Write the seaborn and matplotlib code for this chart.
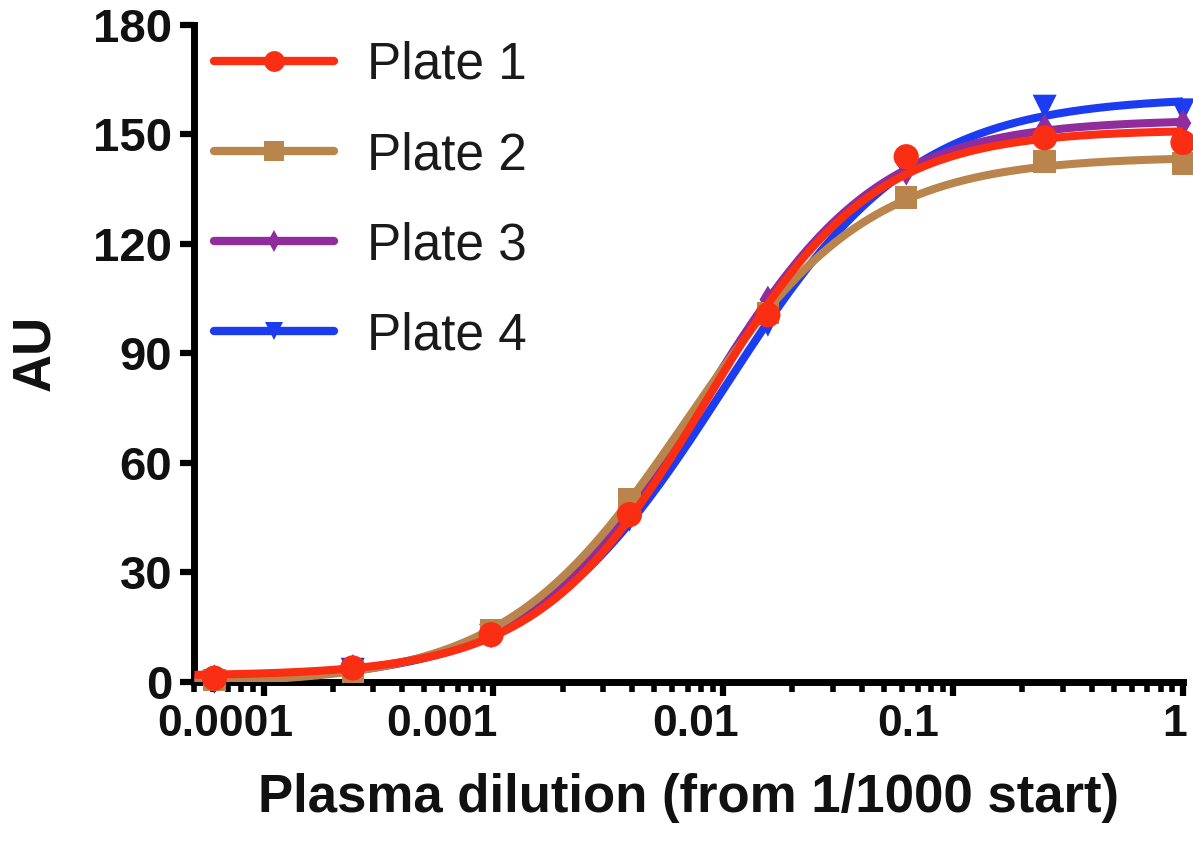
import numpy as np
import pandas as pd
import matplotlib
matplotlib.use("Agg")
import matplotlib.pyplot as plt
from matplotlib.lines import Line2D
from matplotlib.ticker import LogLocator, FixedLocator, NullFormatter
from matplotlib.transforms import ScaledTranslation
import seaborn as sns

# ---- data ----
dilution = [1.0, 0.25, 0.0625, 0.015625, 0.00390625, 0.0009765625,
            0.000244140625, 0.00006103515625]
plate_names = ["Plate 1", "Plate 2", "Plate 3", "Plate 4"]
plate1 = [147.7, 149.0, 143.8, 100.5, 45.8, 12.9, 3.8, 1.0]
plate2 = [142.0, 142.5, 132.6, 101.0, 49.9, 14.2, 2.7, 0.5]
plate3 = [153.0, 151.8, 139.7, 104.7, 47.0, 13.0, 3.8, 1.0]
plate4 = [156.5, 157.5, 140.0, 97.8, 44.4, 12.6, 3.3, 0.0]
colors = ["#FA2E12", "#B9854C", "#902C9C", "#1C3CF2"]
markers = ["o", "s", "d", "v"]
x_ticks = [0.0001, 0.001, 0.01, 0.1, 1]
x_ticklabels = ["0.0001", "0.001", "0.01", "0.1", "1"]
y_ticks = [0, 30, 60, 90, 120, 150, 180]

series = [plate1, plate2, plate3, plate4]

# ---- 4-parameter logistic fit of each plate (least squares on the data) ----
def fit_4pl(x, y):
    lx = np.log10(np.asarray(x))
    y = np.asarray(y)
    best = None
    for lec in np.linspace(-3.5, -0.5, 301):
        for h in np.linspace(0.4, 2.5, 211):
            f = 1.0 / (1.0 + 10 ** ((lec - lx) * h))
            A = np.column_stack([1 - f, f])
            coef, *_ = np.linalg.lstsq(A, y, rcond=None)
            r = np.sum((A @ coef - y) ** 2)
            if best is None or r < best[0]:
                best = (r, coef[0], coef[1], lec, h)
    return best[1:]

xfine = np.logspace(np.log10(5e-5), 0, 300)
curve_rows = []
point_rows = []
for name, ys in zip(plate_names, series):
    b, t, lec, h = fit_4pl(dilution, ys)
    yfit = b + (t - b) / (1.0 + 10 ** ((lec - np.log10(xfine)) * h))
    for xv, yv in zip(xfine, yfit):
        curve_rows.append((name, xv, yv))
    for xv, yv in zip(dilution, ys):
        point_rows.append((name, xv, yv))
curves = pd.DataFrame(curve_rows, columns=["plate", "x", "y"])
points = pd.DataFrame(point_rows, columns=["plate", "x", "y"])

# ---- plot ----
sns.set_style("ticks")
plt.rcParams["font.family"] = ["Liberation Sans", "DejaVu Sans"]

fig = plt.figure(figsize=(11.93, 8.47), dpi=100)
ax = fig.add_axes([0.163, 0.195, 0.8286, 0.776])

order_draw = [3, 2, 1, 0]  # plate 1 on top
for z, i in enumerate(order_draw):
    name = plate_names[i]
    sns.lineplot(data=curves[curves.plate == name], x="x", y="y", ax=ax,
                 color=colors[i], linewidth=5.8, legend=False, zorder=3 + z,
                 solid_capstyle="butt")
    sub = points[points.plate == name]
    msize = {"o": 330, "s": 260, "d": 200, "v": 300}[markers[i]]
    sns.scatterplot(data=sub, x="x", y="y", ax=ax, color=colors[i],
                    marker=markers[i], s=msize, edgecolor="none",
                    legend=False, zorder=3 + z, clip_on=False)

ax.set_xscale("log")
ax.set_xlim(5e-5, 1)
ax.set_ylim(0, 180)

ax.xaxis.set_major_locator(FixedLocator(x_ticks))
ax.set_xticklabels(x_ticklabels)
ax.xaxis.set_minor_locator(LogLocator(base=10, subs=np.arange(2, 10)))
ax.xaxis.set_minor_formatter(NullFormatter())
ax.set_yticks(y_ticks)

ax.tick_params(axis="both", which="major", labelsize=34, width=4.5,
               length=10, color="black", pad=6, labelcolor="#111111")
ax.tick_params(axis="x", which="major", labelsize=32)
ax.tick_params(axis="x", which="minor", width=4, length=7, color="black")
ax.tick_params(axis="y", which="minor", left=False)
for lab in ax.get_xticklabels() + ax.get_yticklabels():
    lab.set_fontweight("bold")

# the reference's x tick labels sit slightly left of their ticks
x_label_shift_px = [-38, -52, -28, -45, -8]
for lab, dx in zip(ax.get_xticklabels(), x_label_shift_px):
    lab.set_transform(lab.get_transform() +
                      ScaledTranslation(dx / 100.0, 0, fig.dpi_scale_trans))

sns.despine(ax=ax)
for sp in ["left", "bottom"]:
    ax.spines[sp].set_linewidth(5)
    ax.spines[sp].set_color("black")

ax.set_xlabel("Plasma dilution (from 1/1000 start)", fontsize=38,
              fontweight="bold", labelpad=20, color="#111111")
ax.set_ylabel("AU", fontsize=38, fontweight="bold", labelpad=24,
              color="#111111")

handles = [Line2D([0], [0], color=c, lw=6, marker=m, markersize=ms,
                  markeredgewidth=0)
           for c, m, ms in zip(colors, markers, [15, 14, 11, 13])]
leg = ax.legend(handles, plate_names, loc="upper left",
                bbox_to_anchor=(0.02, 0.975), frameon=False, fontsize=37,
                handlelength=2.33, handletextpad=0.64, labelspacing=0.8,
                borderpad=0.0, borderaxespad=0.0)
for t in leg.get_texts():
    t.set_color("#1a1a1a")

fig.savefig("out.png", dpi=100)
